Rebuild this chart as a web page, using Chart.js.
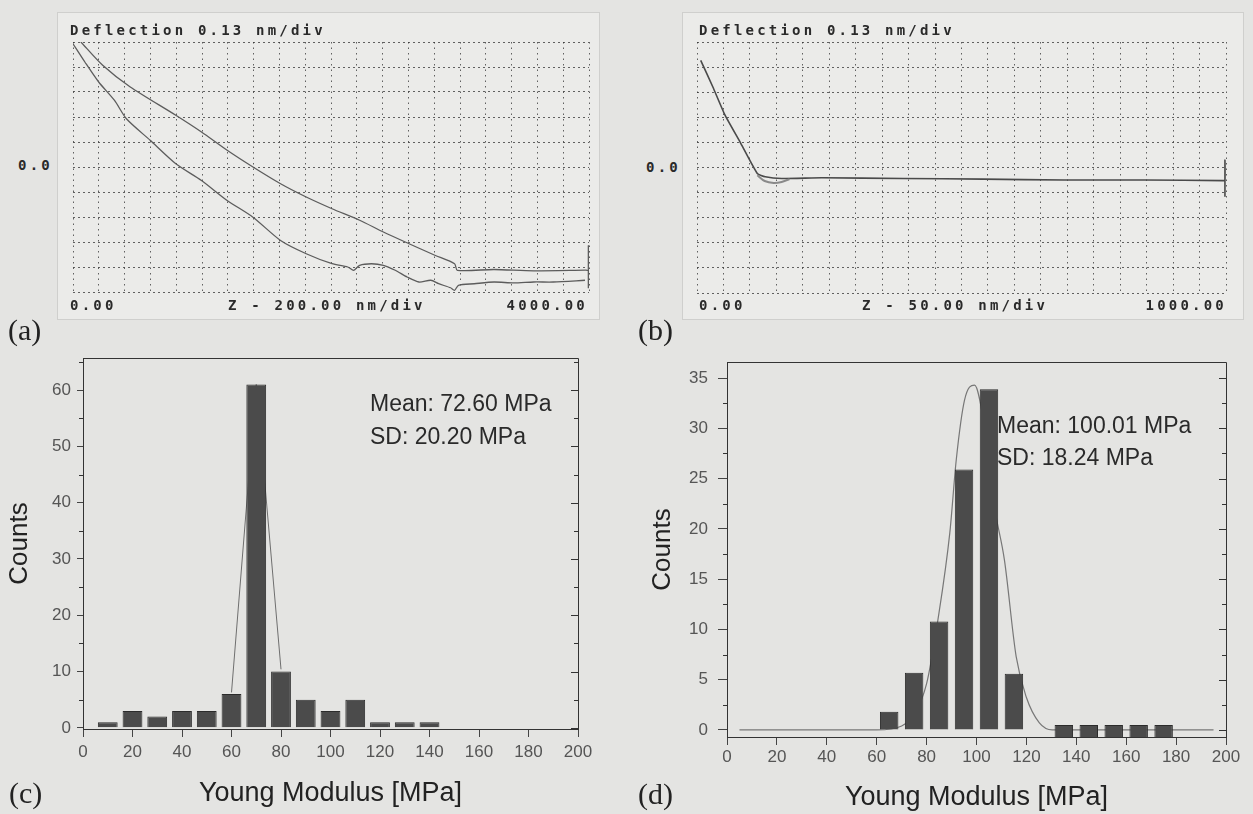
<!DOCTYPE html>
<html lang="en">
<head>
<meta charset="UTF-8" />
<title>Force curves and Young modulus histograms</title>
<script src="https://cdn.jsdelivr.net/npm/chart.js"></script>
<style>
  body {
    margin: 0;
    width: 1253px;
    height: 814px;
    position: relative;
    overflow: hidden;
    background: #e4e4e2;
    font-family: "Liberation Sans", Arial, sans-serif;
  }
  .box { position: absolute; background: #ebebe9; border: 1px solid #cfcfcd; }
  canvas { position: absolute; }
  .mono {
    position: absolute;
    font-family: "DejaVu Sans Mono", monospace;
    font-weight: bold;
    font-size: 14px;
    line-height: 14px;
    letter-spacing: 3.2px;
    color: #2a2a2a;
    white-space: nowrap;
  }
  .tag { position: absolute; font-family: "Liberation Serif", serif; font-size: 30px; line-height: 30px; color: #222; }
  .stat { position: absolute; font-size: 23px; line-height: 23px; color: #2a2a2a; white-space: nowrap; }
</style>
</head>
<body>
  <div class="box" style="left:57px;top:12px;width:541px;height:306px"></div>
  <div class="box" style="left:682px;top:12px;width:560px;height:306px"></div>

  <canvas id="chartA" width="536" height="270" style="left:63px;top:32px"></canvas>
  <canvas id="chartB" width="549" height="271" style="left:687px;top:32px"></canvas>
  <canvas id="chartC" width="620" height="474" style="left:0px;top:340px"></canvas>
  <canvas id="chartD" width="633" height="474" style="left:620px;top:340px"></canvas>

  <div class="mono" style="left:70px;top:23px">Deflection 0.13 nm/div</div>
  <div class="mono" style="left:18px;top:158px">0.0</div>
  <div class="mono" style="left:70px;top:298px">0.00</div>
  <div class="mono" style="left:228px;top:298px">Z - 200.00 nm/div</div>
  <div class="mono" style="right:665px;top:298px">4000.00</div>

  <div class="mono" style="left:699px;top:23px">Deflection 0.13 nm/div</div>
  <div class="mono" style="left:646px;top:160px">0.0</div>
  <div class="mono" style="left:699px;top:298px">0.00</div>
  <div class="mono" style="left:862px;top:298px">Z - 50.00 nm/div</div>
  <div class="mono" style="right:26px;top:298px">1000.00</div>

  <div class="stat" style="left:370px;top:392px">Mean: 72.60 MPa</div>
  <div class="stat" style="left:370px;top:425px">SD: 20.20 MPa</div>
  <div class="stat" style="left:997px;top:414px">Mean: 100.01 MPa</div>
  <div class="stat" style="left:997px;top:446px">SD: 18.24 MPa</div>

  <div class="tag" style="left:8px;top:315px">(a)</div>
  <div class="tag" style="left:638px;top:315px">(b)</div>
  <div class="tag" style="left:9px;top:778px">(c)</div>
  <div class="tag" style="left:638px;top:779px">(d)</div>

<script>
// (a) deflection vs Z, 0..4000 nm
const aUpperX = [61, 230, 444, 797, 996, 1195, 1395, 1609, 1808, 2008, 2222, 2406, 2605, 2805, 2958, 2979, 3264, 3571, 3969, 3995, 3995, 3995];
const aUpperY = [0.65, 0.529, 0.416, 0.269, 0.182, 0.087, 0.0, -0.087, -0.156, -0.217, -0.277, -0.338, -0.399, -0.459, -0.503, -0.537, -0.533, -0.540, -0.536, -0.536, -0.41, -0.63];
const aLowerX = [0, 92, 199, 322, 414, 598, 797, 996, 1195, 1395, 1609, 1808, 2008, 2130, 2176, 2222, 2314, 2406, 2498, 2590, 2682, 2774, 2835, 2927, 2958, 2988, 3111, 3264, 3417, 3571, 3724, 3969];
const aLowerY = [0.641, 0.546, 0.442, 0.346, 0.251, 0.139, 0.017, -0.070, -0.174, -0.261, -0.382, -0.451, -0.503, -0.520, -0.537, -0.511, -0.503, -0.511, -0.537, -0.572, -0.598, -0.589, -0.607, -0.628, -0.641, -0.615, -0.607, -0.598, -0.603, -0.598, -0.598, -0.589];

// (b) deflection vs Z, 0..1000 nm
const bTraceX = [7, 30, 53, 83, 114, 129, 160, 236, 389, 541, 694, 846, 995, 998, 998, 998];
const bTraceY = [0.555, 0.417, 0.271, 0.124, -0.031, -0.048, -0.057, -0.053, -0.057, -0.060, -0.065, -0.065, -0.068, -0.068, 0.038, -0.152];
const bRetractX = [114, 128, 145, 160, 175];
const bRetractY = [-0.04, -0.07, -0.08, -0.075, -0.06];

// (c) histogram
const cBinCenters = [10, 20, 30, 40, 50, 60, 70, 80, 90, 100, 110, 120, 130, 140];
const cCounts = [1, 3, 2, 3, 3, 6, 61, 10, 5, 3, 5, 1, 1, 1];
const cFitX = [60, 70, 80];
const cFitY = [6.3, 61, 10.4];
const cCountTicks = [0, 10, 20, 30, 40, 50, 60];

// (d) histogram
const dBinCenters = [65, 75, 85, 95, 105, 115];
const dCounts = [1.8, 5.7, 10.8, 25.9, 33.9, 5.6];
const dTailCenters = [135, 145, 155, 165, 175];
const dTailCounts = [0.5, 0.5, 0.5, 0.5, 0.5];
const dFitX = [5, 60, 70, 75, 80, 84.5, 89.3, 91.9, 95.2, 99.2, 103, 107.2, 111.2, 115.9, 119.9, 125.2, 130.4, 140, 195];
const dFitY = [0, 0, 0.4, 1.5, 4.6, 10.9, 19.6, 26.9, 32.8, 34.3, 30.5, 22.2, 16.9, 7.3, 3.3, 0.7, 0, 0, 0];
const dCountTicks = [0, 5, 10, 15, 20, 25, 30, 35];

const modulusTicks = [0, 20, 40, 60, 80, 100, 120, 140, 160, 180, 200];

Chart.defaults.font.family = '"Liberation Sans", Arial, sans-serif';

const pts = (xs, ys) => xs.map((x, i) => ({ x: x, y: ys[i] }));

// frame on top/right with inward ticks, plus minor ticks on the left axis
const framePlugin = {
  id: 'frame',
  afterDatasetsDraw(chart) {
    const { ctx, chartArea: a } = chart;
    const y = chart.scales.y;
    const vals = y.ticks.map(t => t.value);
    ctx.save();
    ctx.strokeStyle = '#333';
    ctx.lineWidth = 1;
    ctx.beginPath();
    ctx.moveTo(a.left, a.top + 0.5);
    ctx.lineTo(a.right + 0.5, a.top + 0.5);
    ctx.lineTo(a.right + 0.5, a.bottom);
    vals.forEach((v, i) => {
      const p = Math.round(y.getPixelForValue(v)) + 0.5;
      ctx.moveTo(a.right, p);
      ctx.lineTo(a.right - 7, p);
      const step = i < vals.length - 1 ? vals[i + 1] - v : v - vals[i - 1];
      const mid = v + step / 2;
      if (mid <= y.max) {
        const m = Math.round(y.getPixelForValue(mid)) + 0.5;
        ctx.moveTo(a.right, m);
        ctx.lineTo(a.right - 4, m);
        ctx.moveTo(a.left, m);
        ctx.lineTo(a.left - 4, m);
      }
    });
    ctx.stroke();
    ctx.restore();
  }
};

function curveOptions(xMax, xCount) {
  return {
    responsive: false,
    animation: false,
    devicePixelRatio: 1,
    layout: { padding: 10 },
    plugins: { legend: { display: false }, tooltip: { enabled: false } },
    scales: {
      x: {
        type: 'linear', min: 0, max: xMax,
        ticks: { display: false, count: xCount },
        grid: { color: 'rgba(50,50,50,0.75)', drawTicks: false, borderDash: [1.5, 4] },
        border: { display: false, dash: [1.5, 4] },
        afterFit: s => { s.height = 0; }
      },
      y: {
        type: 'linear', min: -0.65, max: 0.65,
        ticks: { display: false, count: 11 },
        grid: { color: 'rgba(50,50,50,0.75)', drawTicks: false, borderDash: [2, 3] },
        border: { display: false, dash: [2, 3] },
        afterFit: s => { s.width = 0; }
      }
    }
  };
}

new Chart(document.getElementById('chartA'), {
  type: 'line',
  data: {
    datasets: [
      { data: pts(aUpperX, aUpperY), borderColor: '#5c5c5c', borderWidth: 1.3, pointRadius: 0, tension: 0.25 },
      { data: pts(aLowerX, aLowerY), borderColor: '#5c5c5c', borderWidth: 1.3, pointRadius: 0, tension: 0.25 }
    ]
  },
  options: curveOptions(4000, 21)
});

new Chart(document.getElementById('chartB'), {
  type: 'line',
  data: {
    datasets: [
      { data: pts(bRetractX, bRetractY), borderColor: '#8a8a8a', borderWidth: 2, pointRadius: 0, tension: 0.3 },
      { data: pts(bTraceX, bTraceY), borderColor: '#4a4a4a', borderWidth: 1.6, pointRadius: 0, tension: 0.15 }
    ]
  },
  options: curveOptions(1000, 21)
});

function histOptions(o) {
  return {
    responsive: false,
    animation: false,
    devicePixelRatio: 1,
    layout: { padding: { top: o.top, right: o.right, left: 0, bottom: 0 } },
    plugins: { legend: { display: false }, tooltip: { enabled: false } },
    scales: {
      x: {
        type: 'linear', min: 0, max: 200, offset: false,
        afterBuildTicks: s => { s.ticks = modulusTicks.map(v => ({ value: v })); },
        afterFit: s => { s.height = o.xHeight; },
        ticks: { color: '#555', font: { size: 17 }, padding: o.xPad, maxRotation: 0, autoSkip: false },
        grid: { drawOnChartArea: false, offset: false, tickLength: 8, color: '#444' },
        border: { color: '#333', width: 1 },
        title: { display: true, text: 'Young Modulus [MPa]', color: '#222', font: { size: 27 }, padding: { top: 0, bottom: o.titlePad } }
      },
      y: {
        type: 'linear', min: o.yMin, max: o.yMax,
        afterBuildTicks: s => { s.ticks = o.yTicks.map(v => ({ value: v })); },
        afterFit: s => { s.width = o.yWidth; },
        ticks: { color: '#555', font: { size: 17 }, padding: o.yPad },
        grid: { drawOnChartArea: false, tickLength: o.yTick, color: '#444' },
        border: { color: '#333', width: 1 },
        title: { display: true, text: 'Counts', color: '#222', font: { size: 26 }, padding: { top: o.yTitlePad, bottom: 0 } }
      }
    }
  };
}

const barStyle = {
  type: 'bar',
  backgroundColor: '#4b4b4b',
  borderColor: '#2b2b2b',
  borderWidth: 1,
  categoryPercentage: 1,
  grouped: false,
  order: 1
};

new Chart(document.getElementById('chartC'), {
  type: 'bar',
  data: {
    datasets: [
      Object.assign({}, barStyle, { data: pts(cBinCenters, cCounts), barPercentage: 0.8 }),
      { type: 'line', data: pts(cFitX, cFitY), borderColor: '#6e6e6e', borderWidth: 1, pointRadius: 0, order: 2 }
    ]
  },
  options: histOptions({
    top: 18, right: 42, xHeight: 85, xPad: 5, titlePad: 4,
    yMin: -0.2, yMax: 65.7, yTicks: cCountTicks, yWidth: 83, yPad: 6, yTick: 6, yTitlePad: 4
  }),
  plugins: [framePlugin]
});

const dYMin = -0.7;
new Chart(document.getElementById('chartD'), {
  type: 'bar',
  data: {
    datasets: [
      Object.assign({}, barStyle, { data: pts(dBinCenters, dCounts), barPercentage: 0.74 }),
      Object.assign({}, barStyle, { data: pts(dTailCenters, dTailCounts), barPercentage: 0.74, base: dYMin }),
      { type: 'line', data: pts(dFitX, dFitY), borderColor: '#777', borderWidth: 1.2, pointRadius: 0, cubicInterpolationMode: 'monotone', order: 2 }
    ]
  },
  options: histOptions({
    top: 22, right: 27, xHeight: 77, xPad: 2, titlePad: 0,
    yMin: dYMin, yMax: 36.6, yTicks: dCountTicks, yWidth: 107, yPad: 10, yTick: 9, yTitlePad: 27
  }),
  plugins: [framePlugin]
});
</script>
</body>
</html>
